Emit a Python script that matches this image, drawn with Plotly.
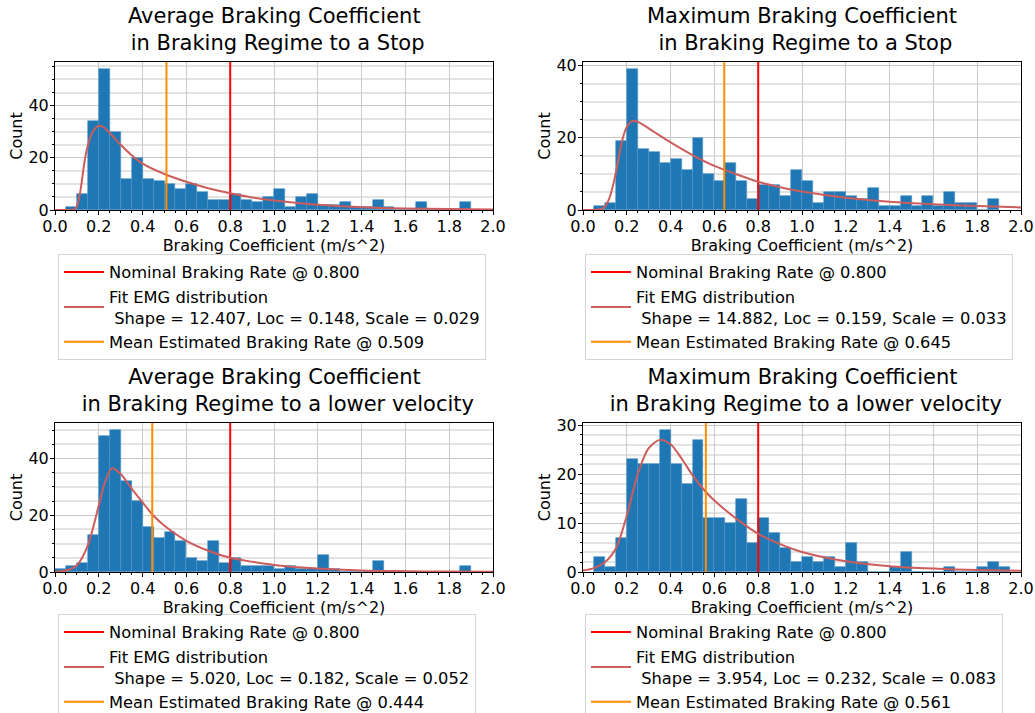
import plotly.graph_objects as go

W, H = 1035, 713
FONT = "DejaVu Sans"

# ---------------- data ----------------
bin_width = 0.05

# Panel 1: Average braking coefficient, braking to a stop
avg_stop_bin_start = 0.05
avg_stop_counts = [1, 6, 34, 54, 30, 12, 20, 12, 11, 10, 8, 10, 7, 4, 4, 6, 4, 3, 5, 8,
                   1, 5, 6, 2, 2, 3, 1, 1, 4, 1, 0, 0, 3, 0, 0, 0, 3]
avg_stop_fit_x = [0.0, 0.05, 0.08, 0.09, 0.10, 0.11, 0.12, 0.13, 0.14, 0.15, 0.17, 0.19, 0.20,
                  0.22, 0.25, 0.30, 0.35, 0.40, 0.50, 0.60, 0.70, 0.80, 0.90, 1.00, 1.20,
                  1.40, 1.60, 1.80, 2.00]
avg_stop_fit_y = [0.0, 0.0, 0.1, 0.4, 1.5, 4.4, 9.5, 15.8, 21.0, 24.7, 29.7, 31.8, 32.3,
                  31.8, 29.5, 25.0, 21.0, 17.8, 13.8, 10.8, 8.3, 6.4, 4.8, 3.6, 2.0,
                  1.1, 0.6, 0.35, 0.2]
avg_stop_mean = 0.509
avg_stop_params = ("12.407", "0.148", "0.029")

# Panel 2: Maximum braking coefficient, braking to a stop
max_stop_bin_start = 0.05
max_stop_counts = [1, 2, 19, 39, 17, 16, 13, 14, 11, 20, 10, 8, 13, 8, 3, 7, 7, 4, 11, 8,
                   2, 5, 5, 4, 3, 6, 1, 1, 4, 1, 4, 1, 5, 2, 2, 0, 3]
max_stop_fit_x = [0.0, 0.05, 0.08, 0.10, 0.12, 0.14, 0.16, 0.18, 0.20, 0.22, 0.23, 0.25,
                  0.30, 0.40, 0.50, 0.60, 0.70, 0.80, 0.90, 1.00, 1.20, 1.40, 1.60, 1.80, 2.00]
max_stop_fit_y = [0.0, 0.0, 0.2, 0.9, 3.2, 7.5, 13.5, 19.5, 23.0, 24.5, 24.7, 24.4,
                  22.6, 18.7, 15.2, 12.2, 9.9, 7.8, 6.3, 5.1, 3.4, 2.3, 1.6, 1.1, 0.7]
max_stop_mean = 0.645
max_stop_params = ("14.882", "0.159", "0.033")

# Panel 3: Average braking coefficient, braking to a lower velocity
avg_low_bin_start = 0.0
avg_low_counts = [1, 2, 3, 13, 48, 50, 32, 25, 16, 12, 14, 11, 5, 4, 11, 3, 5, 2, 2, 2,
                  1, 2, 1, 1, 6, 1, 0, 0, 0, 4, 0, 0, 0, 0, 0, 0, 0, 2]
avg_low_fit_x = [0.0, 0.05, 0.10, 0.15, 0.20, 0.23, 0.26, 0.30, 0.35, 0.40, 0.45, 0.50,
                 0.60, 0.70, 0.80, 0.90, 1.00, 1.20, 1.40, 1.60, 1.80, 2.00]
avg_low_fit_y = [0.1, 0.5, 2.4, 9.4, 23.5, 32.0, 36.6, 34.5, 29.4, 24.5, 19.8, 16.3,
                 11.0, 7.5, 5.0, 3.6, 2.5, 1.2, 0.55, 0.3, 0.15, 0.1]
avg_low_mean = 0.444
avg_low_params = ("5.020", "0.182", "0.052")

# Panel 4: Maximum braking coefficient, braking to a lower velocity
max_low_bin_start = 0.05
max_low_counts = [3, 1, 7, 23, 22, 22, 29, 22, 18, 27, 11, 11, 10, 15, 6, 11, 8, 5, 2, 3,
                  2, 3, 1, 6, 2, 0, 0, 1, 4, 0, 0, 0, 1, 0, 0, 1, 2, 1]
max_low_fit_x = [0.0, 0.05, 0.10, 0.15, 0.20, 0.25, 0.30, 0.35, 0.40, 0.45, 0.50, 0.56,
                 0.60, 0.70, 0.80, 0.90, 1.00, 1.20, 1.40, 1.60, 1.80, 2.00]
max_low_fit_y = [0.3, 0.8, 2.0, 4.8, 11.5, 20.0, 25.3, 27.0, 26.1, 23.2, 19.8, 16.4,
                 14.6, 10.9, 7.8, 5.7, 4.1, 2.2, 1.2, 0.7, 0.4, 0.25]
max_low_mean = 0.561
max_low_params = ("3.954", "0.232", "0.083")

nominal_rate = 0.800

titles = [
    "Average Braking Coefficient<br>\u00a0in Braking Regime to a Stop",
    "Maximum Braking Coefficient<br>\u00a0in Braking Regime to a Stop",
    "Average Braking Coefficient<br>\u00a0in Braking Regime to a lower velocity",
    "Maximum Braking Coefficient<br>\u00a0in Braking Regime to a lower velocity",
]
x_label = "Braking Coefficient (m/s^2)"
y_label = "Count"
x_tick_vals = [0.0, 0.2, 0.4, 0.6, 0.8, 1.0, 1.2, 1.4, 1.6, 1.8, 2.0]
y_dticks = [20, 20, 20, 10]
y_minor_dticks = [5, 5, 5, 2]

panels = [
    (avg_stop_bin_start, avg_stop_counts, avg_stop_fit_x, avg_stop_fit_y, avg_stop_mean, avg_stop_params),
    (max_stop_bin_start, max_stop_counts, max_stop_fit_x, max_stop_fit_y, max_stop_mean, max_stop_params),
    (avg_low_bin_start, avg_low_counts, avg_low_fit_x, avg_low_fit_y, avg_low_mean, avg_low_params),
    (max_low_bin_start, max_low_counts, max_low_fit_x, max_low_fit_y, max_low_mean, max_low_params),
]

# ---------------- layout geometry (pixels) ----------------
plot_boxes = [  # left, right, top, bottom
    (55, 493, 62, 210),
    (583, 1021, 62, 210),
    (55, 493, 423, 572),
    (583, 1021, 423, 572),
]
legend_pos = [(58, 254), (585, 254), (58, 614), (585, 614)]

def px_x(v):
    return v / W

def px_y(v):
    return 1 - v / H

BAR_COLOR = "#1f77b4"
NOMINAL_COLOR = "#ff0000"
FIT_COLOR = "#cd5c5c"
MEAN_COLOR = "#ff8c00"

fig = go.Figure()
layout = dict(
    width=W, height=H,
    margin=dict(l=0, r=0, t=0, b=0, autoexpand=False),
    paper_bgcolor="white", plot_bgcolor="white",
    font=dict(family=FONT, size=16, color="black"),
    showlegend=True,
    bargap=0,
)
annotations = []

for i, (start, counts, fx, fy, mean, params) in enumerate(panels):
    n = i + 1
    xa = "x" if n == 1 else f"x{n}"
    ya = "y" if n == 1 else f"y{n}"
    leg = "legend" if n == 1 else f"legend{n}"
    ymax = max(counts) * 1.05
    edges = [start + k * bin_width for k in range(len(counts))]

    fig.add_trace(go.Bar(
        x=edges, y=counts, width=bin_width, offset=0,
        marker=dict(color=BAR_COLOR, line=dict(color="#4a93c8", width=0.6)),
        xaxis=xa, yaxis=ya, showlegend=False, legend=leg,
    ))
    fig.add_trace(go.Scatter(
        x=[nominal_rate, nominal_rate], y=[0, ymax], mode="lines",
        line=dict(color=NOMINAL_COLOR, width=2),
        name=f"Nominal Braking Rate @ {nominal_rate:.3f}",
        xaxis=xa, yaxis=ya, legend=leg, legendrank=1,
    ))
    fig.add_trace(go.Scatter(
        x=fx, y=fy, mode="lines", line=dict(color=FIT_COLOR, width=2, shape="spline", smoothing=0.8),
        name=("Fit EMG distribution<br>\u00a0Shape = %s, Loc = %s, Scale = %s" % params),
        xaxis=xa, yaxis=ya, legend=leg, legendrank=2,
    ))
    fig.add_trace(go.Scatter(
        x=[mean, mean], y=[0, ymax], mode="lines",
        line=dict(color=MEAN_COLOR, width=2),
        name=f"Mean Estimated Braking Rate @ {mean:.3f}",
        xaxis=xa, yaxis=ya, legend=leg, legendrank=3,
    ))

    l, r, t, b = plot_boxes[i]
    xkey = "xaxis" if n == 1 else f"xaxis{n}"
    ykey = "yaxis" if n == 1 else f"yaxis{n}"
    layout[xkey] = dict(
        domain=[px_x(l), px_x(r)], anchor=ya, range=[0, 2.0],
        tickvals=x_tick_vals, ticktext=[f"{v:.1f}" for v in x_tick_vals],
        ticks="outside", ticklen=4, tickwidth=1, tickcolor="black",
        ticklabelstandoff=-2,
        showline=True, linecolor="black", linewidth=1, mirror=True,
        showgrid=True, gridcolor="#c8c8c8", gridwidth=1,
        zeroline=False,
        tickfont=dict(size=16, family=FONT, color="black"),
        title=dict(text=x_label, font=dict(size=16, family=FONT, color="black"), standoff=1),
        minor=dict(dtick=0.05, ticks="outside", ticklen=2, tickcolor="black", showgrid=False),
        automargin=False,
    )
    layout[ykey] = dict(
        domain=[px_y(b), px_y(t)], anchor=xa, range=[0, ymax],
        dtick=y_dticks[i], tick0=0,
        ticks="outside", ticklen=4, tickwidth=1, tickcolor="black",
        ticklabelstandoff=-2,
        showline=True, linecolor="black", linewidth=1, mirror=True,
        showgrid=True, gridcolor="#c8c8c8", gridwidth=1,
        zeroline=False,
        tickfont=dict(size=16, family=FONT, color="black"),
        title=dict(text=y_label, font=dict(size=16, family=FONT, color="black"), standoff=1),
        minor=dict(dtick=y_minor_dticks[i], tick0=0, ticks="outside", ticklen=2, tickcolor="black",
                   showgrid=True, gridcolor="#e3e3e3", gridwidth=1.5),
        automargin=False,
    )

    lx, ly = legend_pos[i]
    lkey = "legend" if n == 1 else f"legend{n}"
    layout[lkey] = dict(
        x=px_x(lx), y=px_y(ly), xanchor="left", yanchor="top",
        xref="paper", yref="paper",
        bgcolor="rgba(255,255,255,0.8)", bordercolor="#d5d5d5", borderwidth=1,
        font=dict(size=16.3, family=FONT, color="black"),
        itemwidth=40, valign="middle", tracegroupgap=0,
    )

    annotations.append(dict(
        text=titles[i], x=px_x((l + r) / 2), y=px_y(t - 5), xref="paper", yref="paper",
        xanchor="center", yanchor="bottom", showarrow=False, align="center",
        font=dict(size=21, family=FONT, color="black"),
    ))

layout["annotations"] = annotations
fig.update_layout(**layout)
fig.write_html("out.html")
